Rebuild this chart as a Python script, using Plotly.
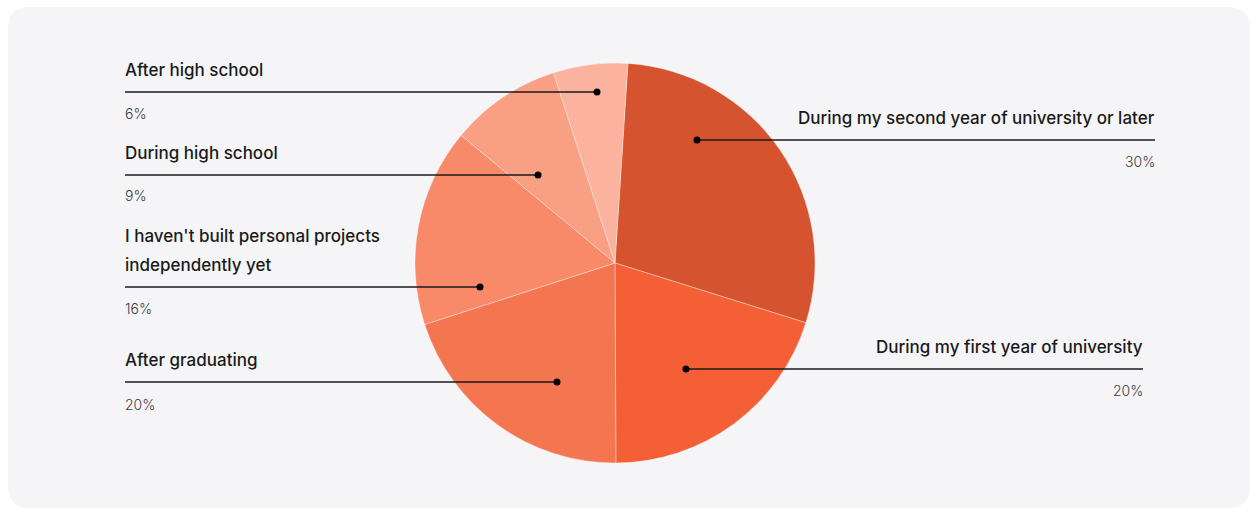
import plotly.graph_objects as go

# ---- data ----
categories = [
    "During my second year of university or later",
    "During my first year of university",
    "After graduating",
    "I haven't built personal projects<br>independently yet",
    "During high school",
    "After high school",
]
shares = [28.8, 20.1, 20.1, 16.0, 9.0, 6.0]          # slice sizes
pct_labels = ["30%", "20%", "20%", "16%", "9%", "6%"]  # printed percentages
colors = ["#D5532F", "#F55F35", "#F47651", "#F98A69", "#F9A084", "#FBB39F"]

# ---- layout helpers (pixel coordinates of the 1251x509 canvas) ----
W, H = 1251, 509
cx, cy, R = 615, 263, 200
# side, label centre y, line y, dot x, pct y, text anchor x
label_layout = [
    ("right", [118], 140, 697, 161, 1155),
    ("right", [347], 369, 686, 390, 1143),
    ("left", [360], 382, 557, 404, 125),
    ("left", [236, 265], 287, 480, 308, 125),
    ("left", [153], 175, 538, 195, 125),
    ("left", [70], 92, 597, 113, 125),
]

fig = go.Figure()
fig.add_trace(go.Pie(
    labels=categories,
    values=shares,
    sort=False,
    direction="clockwise",
    rotation=3.7,
    marker=dict(colors=colors, line=dict(color="rgba(255,255,255,0.35)", width=1)),
    textinfo="none",
    hoverinfo="label+percent",
    showlegend=False,
    domain=dict(x=[(cx - R) / W, (cx + R) / W], y=[1 - (cy + R) / H, 1 - (cy - R) / H]),
))

shapes = []
annotations = []
# card background
r = 22
x0, y0, x1, y1 = 8, 7, 1250, 508
path = (f"M {x0+r},{y0} L {x1-r},{y0} Q {x1},{y0} {x1},{y0+r} L {x1},{y1-r} Q {x1},{y1} {x1-r},{y1} "
        f"L {x0+r},{y1} Q {x0},{y1} {x0},{y1-r} L {x0},{y0+r} Q {x0},{y0} {x0+r},{y0} Z")
shapes.append(dict(type="path", path=path, xref="x", yref="y", fillcolor="#F5F5F7",
                   line=dict(width=0), layer="below"))

font_title = dict(family="Inter, Lato, sans-serif", size=17, color="#1A1A1A", weight=500)
font_pct = dict(family="Inter, Lato, sans-serif", size=14, color="#3C3C3C", weight=300)

for cat, pct, (side, ty, ly, dx, py, ax) in zip(categories, pct_labels, label_layout):
    lines = cat.split("<br>")
    anchor = "left" if side == "left" else "right"
    tx = ax - 2 if side == "left" else ax + 2
    for t, yy in zip(lines, ty):
        annotations.append(dict(x=tx, y=yy, xref="x", yref="y", text=t, showarrow=False,
                                xanchor=anchor, yanchor="middle", font=font_title))
    annotations.append(dict(x=tx, y=py, xref="x", yref="y", text=pct, showarrow=False,
                            xanchor=anchor, yanchor="middle", font=font_pct))
    lx0, lx1 = (ax, dx) if side == "left" else (dx, ax)
    shapes.append(dict(type="line", x0=lx0, x1=lx1, y0=ly, y1=ly, xref="x", yref="y",
                       line=dict(color="#1A1A1A", width=1.5), layer="above"))
    shapes.append(dict(type="circle", x0=dx - 3.5, x1=dx + 3.5, y0=ly - 3.5, y1=ly + 3.5,
                       xref="x", yref="y", fillcolor="#000000", line=dict(width=0), layer="above"))

fig.update_layout(
    width=W, height=H,
    margin=dict(l=0, r=0, t=0, b=0),
    paper_bgcolor="#FFFFFF",
    plot_bgcolor="rgba(0,0,0,0)",
    xaxis=dict(range=[0, W], visible=False, fixedrange=True),
    yaxis=dict(range=[H, 0], visible=False, fixedrange=True),
    shapes=shapes,
    annotations=annotations,
)

fig.write_html("out.html")
